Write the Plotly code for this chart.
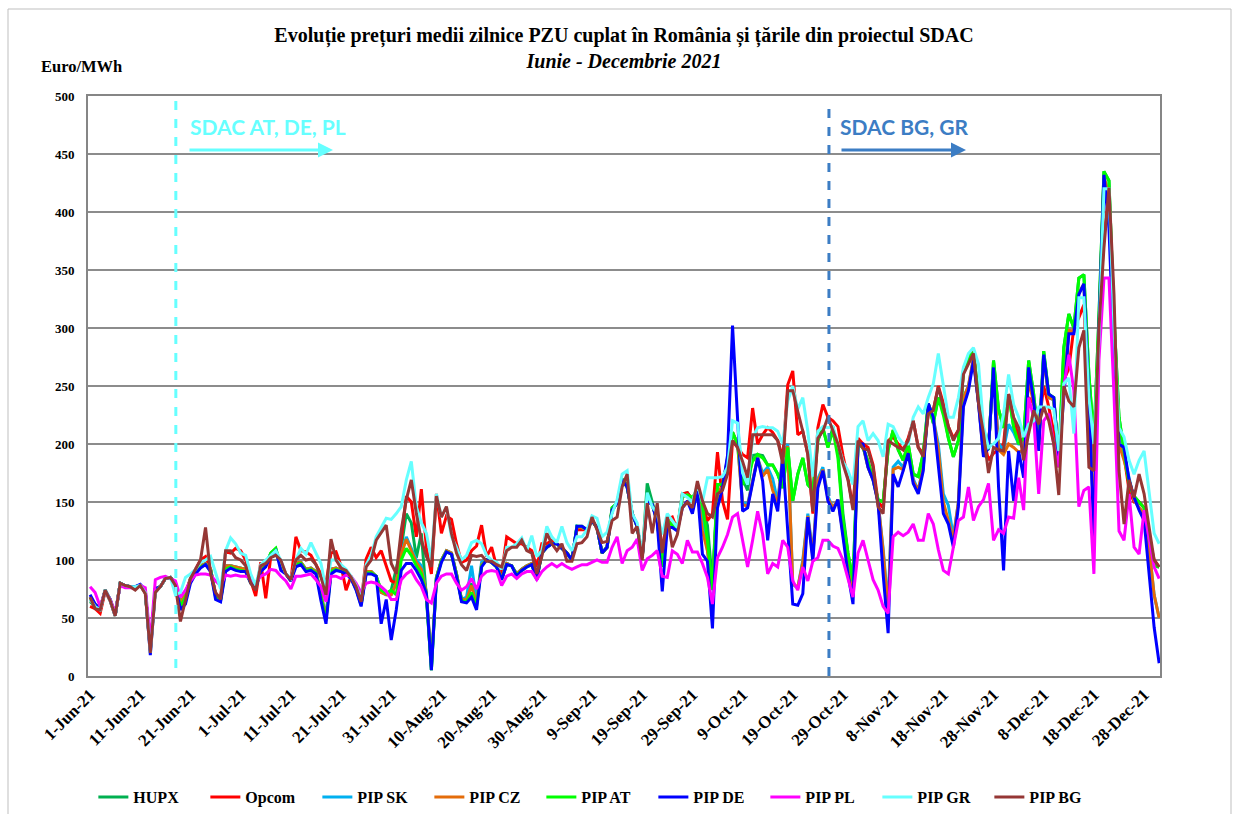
import pandas as pd
import plotly.graph_objects as go

# ---------------- data ----------------
start_date = "2021-06-01"
end_date = "2021-12-31"
dates = pd.date_range(start_date, end_date, freq="D")

tick_labels = ["1-Jun-21", "11-Jun-21", "21-Jun-21", "1-Jul-21", "11-Jul-21", "21-Jul-21",
               "31-Jul-21", "10-Aug-21", "20-Aug-21", "30-Aug-21", "9-Sep-21", "19-Sep-21",
               "29-Sep-21", "9-Oct-21", "19-Oct-21", "29-Oct-21", "8-Nov-21", "18-Nov-21",
               "28-Nov-21", "8-Dec-21", "18-Dec-21", "28-Dec-21"]

series_names = ["HUPX", "Opcom", "PIP SK", "PIP CZ", "PIP AT", "PIP DE", "PIP PL", "PIP GR", "PIP BG"]

hupx = [64, 60, 56, 74, 65, 52, 80, 78, 77, 77,
        78, 72, 22, 75, 77, 84, 85, 80, 62, 70,
        84, 90, 95, 97, 92, 70, 66, 95, 95, 94,
        93, 92, 82, 76, 92, 96, 106, 110, 95, 88,
        83, 98, 98, 92, 93, 90, 70, 50, 92, 93,
        91, 90, 85, 76, 62, 90, 90, 86, 74, 71,
        74, 94, 111, 140, 132, 102, 123, 68, 5, 85,
        100, 108, 106, 88, 66, 66, 80, 62, 96, 100,
        98, 94, 84, 97, 95, 88, 92, 95, 97, 84,
        106, 111, 114, 114, 110, 106, 100, 129, 128, 126,
        134, 128, 106, 111, 145, 149, 170, 165, 140, 129,
        102, 166, 150, 134, 96, 135, 130, 126, 157, 158,
        152, 162, 145, 130, 80, 165, 165, 185, 210, 200,
        170, 160, 190, 191, 190, 182, 182, 174, 162, 197,
        151, 174, 188, 165, 160, 203, 214, 197, 215, 192,
        140, 106, 82, 200, 197, 185, 170, 152, 150, 195,
        212, 195, 186, 200, 174, 172, 192, 235, 218, 240,
        230, 205, 189, 203, 263, 275, 279, 238, 203, 195,
        272, 230, 214, 243, 215, 200, 205, 272, 243, 200,
        280, 243, 240, 186, 283, 312, 300, 343, 346, 260,
        203, 310, 435, 427, 310, 223, 195, 165, 155, 150,
        145, 120, 95, 94]

opcom = [60, 58, 54, 73, 65, 52, 80, 78, 77, 77,
         78, 72, 22, 75, 77, 84, 85, 80, 62, 72,
         84, 92, 100, 103, 92, 70, 68, 107, 106, 110,
         108, 100, 82, 69, 98, 67, 103, 108, 98, 88,
         82, 120, 108, 107, 104, 96, 88, 80, 106, 107,
         95, 74, 86, 76, 64, 101, 111, 102, 108, 94,
         82, 80, 120, 155, 150, 120, 161, 111, 88, 157,
         123, 138, 135, 114, 98, 100, 108, 112, 130, 103,
         111, 94, 88, 120, 117, 114, 114, 111, 108, 94,
         114, 114, 117, 114, 111, 106, 100, 126, 126, 126,
         134, 128, 106, 111, 143, 149, 169, 163, 140, 129,
         102, 152, 148, 134, 110, 135, 137, 126, 157, 158,
         152, 160, 148, 134, 140, 193, 151, 135, 203, 197,
         191, 188, 231, 200, 208, 214, 210, 203, 188, 251,
         263, 208, 211, 191, 140, 214, 234, 223, 220, 215,
         190, 170, 145, 205, 200, 197, 182, 150, 145, 203,
         206, 200, 195, 205, 220, 197, 192, 226, 229, 250,
         235, 215, 205, 212, 262, 272, 280, 238, 205, 186,
         192, 195, 200, 243, 222, 205, 200, 240, 235, 215,
         250, 232, 210, 180, 255, 265, 300, 309, 320, 230,
         180, 300, 380, 415, 300, 215, 190, 160, 150, 150,
         145, 120, 100, 94]

pip_sk = [66, 60, 57, 74, 65, 52, 80, 78, 77, 77,
          78, 72, 22, 75, 77, 84, 85, 80, 62, 70,
          84, 90, 95, 97, 92, 70, 66, 95, 95, 94,
          93, 92, 82, 76, 92, 96, 104, 108, 95, 88,
          83, 98, 98, 92, 93, 90, 70, 52, 92, 93,
          91, 90, 85, 76, 62, 90, 90, 86, 72, 70,
          70, 80, 105, 120, 110, 100, 95, 72, 8, 85,
          100, 108, 106, 88, 66, 68, 95, 65, 98, 100,
          98, 94, 84, 97, 95, 88, 92, 95, 97, 84,
          106, 111, 114, 114, 110, 106, 100, 129, 128, 126,
          134, 128, 106, 111, 143, 149, 169, 163, 140, 129,
          102, 152, 148, 134, 95, 135, 130, 126, 155, 156,
          150, 162, 140, 110, 76, 160, 162, 188, 210, 200,
          150, 148, 168, 188, 175, 180, 170, 150, 190, 200,
          79, 76, 100, 140, 105, 170, 180, 155, 145, 152,
          125, 95, 70, 200, 198, 180, 169, 150, 110, 60,
          180, 185, 180, 195, 170, 160, 180, 235, 222, 200,
          157, 147, 120, 150, 240, 250, 274, 236, 192, 197,
          266, 200, 195, 217, 210, 200, 200, 260, 240, 200,
          275, 240, 238, 186, 250, 298, 297, 330, 338, 245,
          130, 300, 430, 415, 290, 205, 190, 170, 152, 145,
          140, 110, 70, 50]

pip_cz = [66, 60, 57, 74, 65, 52, 80, 78, 77, 77,
          78, 72, 22, 75, 77, 84, 85, 80, 62, 70,
          84, 90, 95, 97, 92, 70, 66, 95, 95, 94,
          93, 92, 82, 76, 92, 96, 104, 108, 95, 88,
          83, 98, 98, 92, 93, 90, 70, 50, 92, 93,
          91, 90, 85, 76, 62, 90, 90, 86, 72, 70,
          70, 80, 105, 118, 108, 98, 92, 72, 10, 85,
          100, 108, 106, 88, 66, 66, 78, 62, 96, 100,
          98, 94, 84, 97, 95, 88, 92, 95, 97, 84,
          106, 111, 114, 114, 110, 106, 100, 128, 128, 126,
          134, 128, 106, 111, 143, 149, 169, 163, 140, 129,
          102, 152, 148, 134, 95, 135, 130, 126, 155, 156,
          150, 160, 125, 108, 76, 160, 162, 188, 210, 200,
          148, 146, 168, 188, 172, 178, 160, 148, 188, 198,
          80, 76, 98, 138, 103, 168, 178, 153, 145, 152,
          123, 93, 68, 200, 198, 180, 169, 150, 108, 55,
          178, 180, 178, 195, 168, 160, 180, 235, 222, 195,
          150, 134, 118, 150, 240, 250, 274, 236, 190, 197,
          266, 195, 191, 200, 197, 193, 195, 255, 235, 198,
          275, 240, 238, 186, 248, 298, 297, 330, 338, 245,
          128, 300, 430, 415, 290, 200, 186, 169, 152, 145,
          140, 110, 70, 50]

pip_at = [68, 62, 58, 74, 66, 53, 80, 78, 77, 77,
          78, 72, 24, 75, 77, 84, 85, 79, 60, 68,
          82, 89, 94, 96, 91, 68, 65, 92, 94, 92,
          91, 90, 80, 76, 91, 95, 106, 110, 93, 88,
          82, 96, 97, 91, 92, 89, 68, 48, 90, 92,
          90, 89, 84, 75, 61, 89, 89, 86, 74, 71,
          74, 70, 100, 110, 104, 95, 88, 70, 5, 84,
          99, 107, 105, 87, 65, 64, 72, 60, 95, 100,
          98, 94, 83, 96, 95, 87, 91, 94, 96, 83,
          106, 111, 114, 114, 110, 106, 100, 129, 129, 126,
          134, 128, 106, 111, 145, 149, 169, 163, 140, 129,
          102, 152, 148, 133, 94, 134, 130, 126, 155, 156,
          154, 160, 148, 117, 74, 165, 165, 185, 210, 200,
          165, 171, 185, 191, 188, 182, 182, 174, 162, 197,
          151, 174, 188, 165, 160, 203, 214, 197, 212, 188,
          135, 106, 82, 200, 197, 185, 170, 152, 150, 195,
          212, 195, 186, 200, 174, 172, 192, 235, 218, 240,
          225, 205, 189, 203, 263, 275, 279, 238, 203, 195,
          272, 230, 214, 243, 215, 200, 205, 272, 243, 200,
          280, 243, 240, 186, 283, 312, 300, 343, 346, 260,
          203, 310, 435, 427, 310, 223, 195, 165, 155, 150,
          145, 120, 95, 94]

pip_de = [70, 62, 58, 74, 66, 52, 80, 78, 77, 77,
          79, 74, 18, 75, 77, 84, 85, 78, 57, 62,
          80, 88, 93, 96, 90, 66, 64, 90, 93, 91,
          90, 90, 80, 76, 90, 94, 104, 108, 91, 88,
          82, 94, 96, 90, 91, 88, 65, 45, 88, 91,
          90, 88, 84, 74, 60, 88, 88, 86, 45, 66,
          31, 57, 91, 97, 97, 91, 83, 71, 5, 83,
          98, 107, 105, 86, 64, 63, 68, 57, 94, 100,
          98, 94, 83, 96, 95, 86, 91, 94, 96, 83,
          106, 111, 114, 114, 110, 106, 100, 129, 129, 126,
          134, 128, 106, 111, 143, 149, 169, 163, 140, 129,
          102, 150, 148, 132, 73, 128, 128, 125, 145, 151,
          140, 160, 105, 99, 41, 145, 162, 190, 302, 220,
          142, 145, 165, 188, 168, 117, 157, 142, 188, 122,
          62, 61, 71, 137, 99, 162, 177, 151, 142, 152,
          120, 88, 62, 200, 200, 180, 169, 149, 88, 37,
          174, 163, 177, 192, 166, 157, 177, 235, 223, 183,
          140, 131, 111, 146, 232, 246, 272, 235, 189, 197,
          266, 163, 91, 194, 151, 194, 171, 266, 237, 194,
          277, 243, 240, 186, 243, 295, 295, 329, 338, 243,
          117, 300, 432, 386, 272, 200, 197, 169, 154, 143,
          134, 85, 42, 11]

pip_pl = [77, 72, 60, 73, 66, 55, 78, 76, 76, 76,
          78, 76, 30, 83, 85, 86, 84, 82, 68, 74,
          82, 87, 88, 88, 87, 82, 78, 87, 86, 87,
          86, 86, 84, 80, 86, 88, 92, 91, 86, 82,
          75, 86, 86, 87, 88, 83, 77, 64, 86, 86,
          84, 87, 86, 80, 72, 80, 81, 80, 77, 73,
          66, 66, 83, 88, 91, 83, 77, 66, 63, 80,
          86, 88, 88, 80, 74, 77, 84, 75, 86, 90,
          91, 90, 78, 86, 88, 84, 88, 90, 90, 83,
          90, 94, 97, 94, 97, 94, 92, 94, 96, 96,
          98, 100, 98, 98, 111, 120, 97, 108, 111, 118,
          91, 101, 104, 108, 86, 85, 108, 105, 97, 117,
          107, 107, 97, 85, 62, 102, 111, 122, 137, 140,
          117, 94, 117, 142, 122, 88, 97, 94, 117, 111,
          82, 74, 94, 82, 99, 102, 117, 117, 112, 110,
          100, 83, 68, 106, 117, 100, 83, 74, 60, 54,
          120, 124, 121, 124, 131, 117, 117, 140, 131, 109,
          91, 88, 112, 134, 137, 163, 134, 146, 152, 166,
          117, 126, 123, 137, 136, 171, 143, 240, 223, 157,
          220, 226, 200, 180, 249, 277, 246, 146, 160, 163,
          88, 272, 343, 343, 243, 125, 117, 157, 111, 105,
          143, 120, 94, 84]

pip_gr = [66, 60, 57, 74, 65, 52, 80, 78, 77, 77,
          78, 72, 20, 72, 77, 84, 85, 70, 72, 85,
          88, 92, 98, 100, 103, 90, 75, 108, 119, 114,
          106, 104, 88, 78, 96, 100, 104, 108, 100, 88,
          84, 100, 110, 105, 115, 106, 97, 75, 100, 100,
          96, 92, 86, 78, 66, 96, 104, 120, 128, 136,
          135, 140, 146, 169, 185, 146, 132, 123, 100, 157,
          137, 146, 120, 111, 100, 104, 115, 117, 114, 104,
          100, 98, 92, 111, 111, 114, 119, 108, 121, 103,
          108, 129, 120, 115, 129, 115, 108, 120, 120, 126,
          138, 136, 120, 124, 140, 152, 174, 177, 140, 132,
          104, 158, 146, 140, 122, 140, 134, 128, 157, 154,
          150, 165, 150, 171, 171, 171, 172, 180, 220, 218,
          175, 165, 205, 214, 215, 214, 214, 211, 200, 237,
          250, 230, 240, 211, 172, 211, 215, 214, 215, 200,
          185, 177, 165, 215, 220, 203, 209, 203, 189, 217,
          215, 206, 200, 200, 223, 232, 226, 240, 252, 278,
          249, 223, 223, 240, 266, 278, 283, 269, 215, 197,
          200, 205, 226, 260, 234, 223, 206, 217, 220, 232,
          232, 232, 230, 194, 252, 257, 209, 326, 326, 240,
          200, 290, 420, 420, 300, 214, 206, 186, 174, 186,
          194, 157, 123, 114]

pip_bg = [68, 58, 57, 74, 65, 52, 80, 78, 77, 74,
          78, 71, 20, 72, 77, 84, 85, 78, 47, 65,
          84, 92, 100, 128, 88, 72, 66, 108, 108, 102,
          100, 95, 80, 74, 95, 97, 102, 104, 100, 88,
          83, 100, 104, 100, 101, 96, 85, 70, 118, 100,
          93, 91, 85, 77, 64, 94, 100, 117, 123, 130,
          97, 88, 126, 152, 169, 140, 117, 103, 94, 155,
          137, 146, 123, 106, 96, 91, 104, 103, 104, 99,
          99, 96, 94, 108, 111, 111, 117, 108, 106, 88,
          103, 123, 114, 108, 114, 99, 99, 114, 115, 120,
          137, 126, 115, 116, 134, 137, 163, 174, 123, 129,
          100, 149, 123, 149, 106, 137, 111, 122, 145, 150,
          145, 168, 151, 140, 137, 157, 160, 174, 203, 197,
          185, 171, 208, 208, 208, 208, 208, 203, 183, 246,
          246, 228, 211, 191, 142, 205, 211, 223, 211, 200,
          183, 169, 143, 203, 196, 195, 180, 146, 140, 203,
          200, 197, 195, 203, 220, 197, 189, 226, 229, 249,
          232, 215, 203, 212, 260, 269, 278, 235, 209, 175,
          197, 195, 194, 243, 223, 214, 186, 209, 229, 217,
          232, 220, 200, 156, 250, 237, 232, 283, 298, 180,
          177, 300, 369, 421, 329, 177, 131, 169, 154, 174,
          157, 128, 100, 94]

sdac_events = ["SDAC AT, DE, PL", "SDAC BG, GR"]
sdac_dates = ["2021-06-18 02:00", "2021-10-26 05:00"]

# ---------------- styling ----------------
colors = ["#00B050", "#FF0000", "#00B0F0", "#E46C0A", "#00FF00",
          "#0000FF", "#FF00FF", "#66FFFF", "#953735"]
SERIF = "Liberation Serif, Times New Roman, serif"
SANS = "Lato, Open Sans, sans-serif"

all_series = [hupx, opcom, pip_sk, pip_cz, pip_at, pip_de, pip_pl, pip_gr, pip_bg]

fig = go.Figure()
for name, vals, col in zip(series_names, all_series, colors):
    fig.add_trace(go.Scatter(x=dates, y=vals, name=name, mode="lines",
                             line=dict(color=col, width=3)))

tick_vals = pd.to_datetime(tick_labels, format="%d-%b-%y")

fig.update_layout(
    width=1235, height=814,
    margin=dict(l=88, r=75, t=96, b=138),
    paper_bgcolor="white", plot_bgcolor="white",
    showlegend=True,
    title=dict(
        text="<b>Evoluție prețuri medii zilnice PZU cuplat în România și țările din proiectul SDAC</b>"
             "<br><b><i>Iunie - Decembrie 2021</i></b>",
        font=dict(family=SERIF, size=20, color="black"),
        x=0.5, xref="paper", xanchor="center",
        y=1 - 42 / 814, yref="container", yanchor="middle"),
    legend=dict(orientation="h", x=0.005, xanchor="left",
                y=1 - 797 / 814, yref="container", yanchor="middle",
                font=dict(family=SERIF, size=16, color="black", weight="bold"),
                itemwidth=30, entrywidth=67, entrywidthmode="pixels",
                traceorder="normal"),
    xaxis=dict(type="date",
               range=["2021-05-31 14:00", "2021-12-31 04:00"],
               tickvals=tick_vals, ticktext=tick_labels, tickangle=-45,
               tickfont=dict(family=SERIF, size=17, color="black", weight="bold"),
               showgrid=False, showline=True, linecolor="#868686", linewidth=2,
               mirror=True, ticks="", zeroline=False, automargin=False),
    yaxis=dict(range=[0, 500], dtick=50,
               tickfont=dict(family=SERIF, size=13, color="black", weight="bold"),
               showgrid=True, gridcolor="#8C8C8C", gridwidth=1.5,
               showline=True, linecolor="#868686", linewidth=2, mirror=True,
               ticks="", ticklabelstandoff=9, zeroline=False, automargin=False),
)

# axis unit label
fig.add_annotation(text="<b>Euro/MWh</b>", xref="paper", yref="paper",
                   x=(81 - 88) / 1072, y=(676 - 66) / 580, showarrow=False,
                   xanchor="center", yanchor="middle",
                   font=dict(family=SERIF, size=16.5, color="black"))

# SDAC markers
ev_colors = ["#66FFFF", "#3C7DC4"]
ev_text_px = [188, 838]
ev_arrow_px = [(188, 333), (840, 966)]
ev_line_y = [(100, 668), (100, 676)]
for txt, dte, col, tx, (a0, a1), (ly0, ly1) in zip(sdac_events, sdac_dates, ev_colors,
                                                     ev_text_px, ev_arrow_px, ev_line_y):
    fig.add_shape(type="line", xref="x", yref="paper", x0=dte, x1=dte,
                  y0=(676 - ly1) / 580, y1=(676 - ly0) / 580,
                  line=dict(color=col, width=3, dash="dash"))
    fig.add_annotation(text="<b>" + txt + "</b>", xref="paper", yref="paper",
                       x=(tx - 88) / 1072, y=(676 - 126) / 580, showarrow=False,
                       xanchor="left", yanchor="middle",
                       font=dict(family=SANS, size=21, color=col))
    fig.add_annotation(text="", xref="paper", yref="paper",
                       x=(a1 - 88) / 1072, y=(676 - 150) / 580,
                       ax=-(a1 - a0), ay=0, axref="pixel", ayref="pixel",
                       showarrow=True, arrowhead=2, arrowsize=1, arrowwidth=3,
                       arrowcolor=col)

# chart frame
fig.add_shape(type="rect", xref="paper", yref="paper",
              x0=(8 - 88) / 1072, x1=(1231 - 88) / 1072,
              y0=(676 - 830) / 580, y1=(676 - 9) / 580,
              line=dict(color="#BFBFBF", width=1), layer="below")

fig.write_html("out.html", config={"displayModeBar": False},
               post_script="document.body.style.margin='0';")
